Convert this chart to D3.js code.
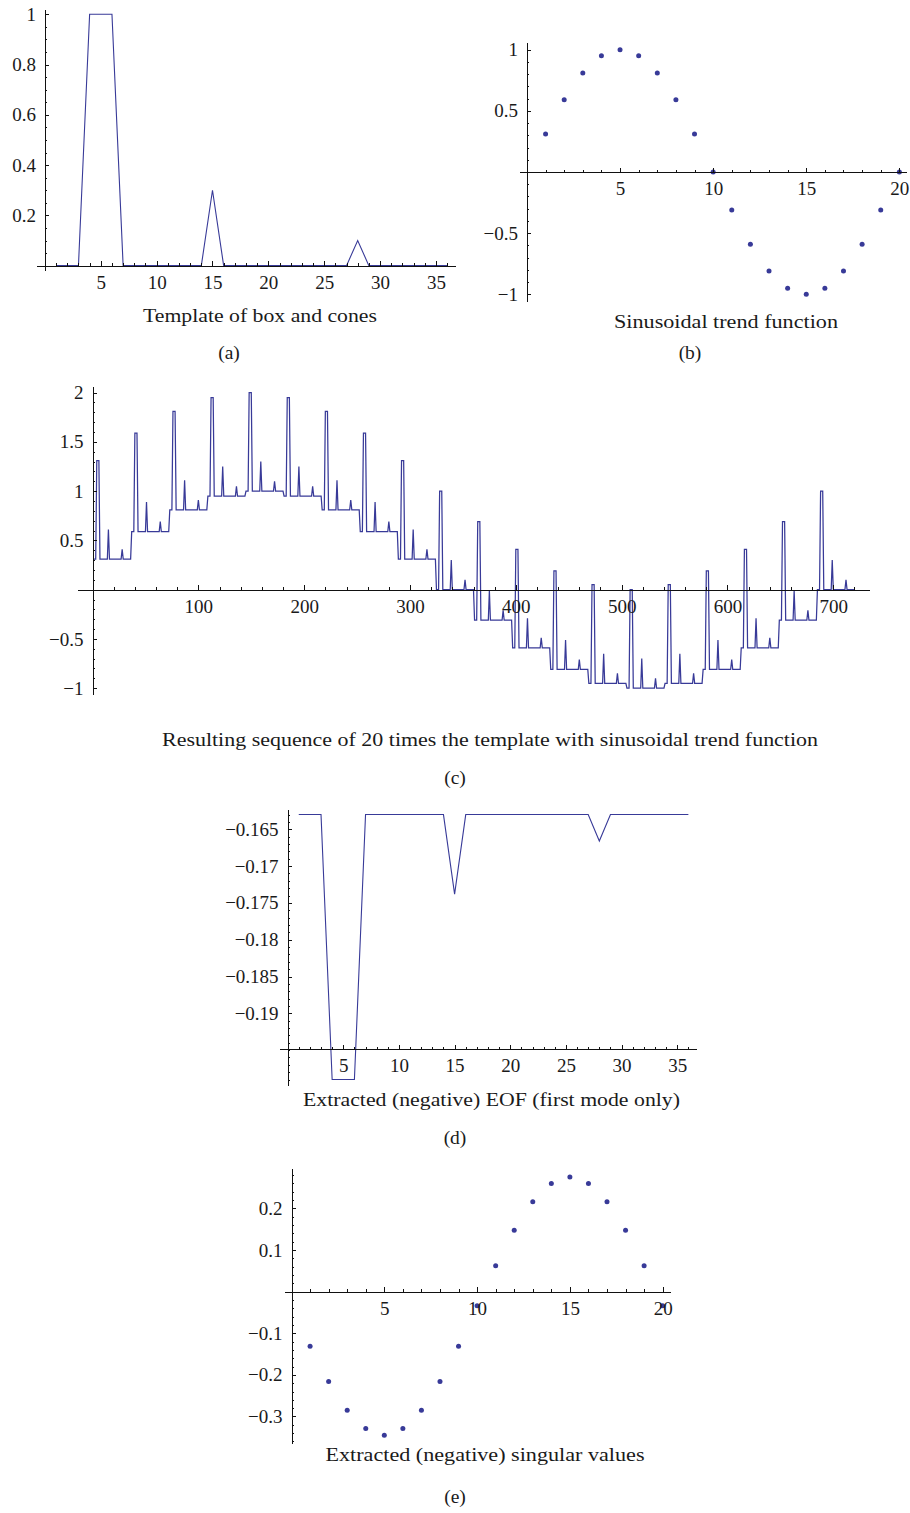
<!DOCTYPE html>
<html>
<head>
<meta charset="utf-8">
<script src="https://cdn.jsdelivr.net/npm/d3@7"></script>
<style>
body { margin: 0; background: #fff; }
svg text { font-family: "Liberation Serif", "DejaVu Serif", serif; fill: #1a1a1a; }
.axis path, .axis line { stroke: #111; stroke-width: 1; shape-rendering: crispEdges; }
</style>
</head>
<body>
<svg id="fig" width="910" height="1513"></svg>
<script>
// ---- values ----

// (a) template of one box and two cones, points 1..36
const templateVals = [0, 0, 0, 1, 1, 1, 0, 0, 0, 0, 0, 0, 0, 0, 0.3, 0, 0, 0,
                      0, 0, 0, 0, 0, 0, 0, 0, 0, 0.1, 0, 0, 0, 0, 0, 0, 0, 0];

// (b) trend level for each of the 20 repeats
const trendVals = [0.31, 0.59, 0.81, 0.95, 1, 0.95, 0.81, 0.59, 0.31, 0,
                   -0.31, -0.59, -0.81, -0.95, -1, -0.95, -0.81, -0.59, -0.31, 0];

// (c) the template repeated 20 times, each copy lifted by its trend level (as the caption says)
const seqVals = trendVals.flatMap(t => templateVals.map(v => v + t));

// (d) first EOF mode, sign flipped
const eofVals = [-0.163, -0.163, -0.163, -0.199, -0.199, -0.199, -0.163, -0.163, -0.163,
                 -0.163, -0.163, -0.163, -0.163, -0.163, -0.1738, -0.163, -0.163, -0.163,
                 -0.163, -0.163, -0.163, -0.163, -0.163, -0.163, -0.163, -0.163, -0.163,
                 -0.1666, -0.163, -0.163, -0.163, -0.163, -0.163, -0.163, -0.163, -0.163];

// (e) extracted singular values, sign flipped
const singVals = [-0.131, -0.216, -0.285, -0.329, -0.345, -0.329, -0.285, -0.216, -0.131, -0.034,
                  0.0625, 0.1475, 0.216, 0.26, 0.2757, 0.26, 0.216, 0.1475, 0.0625, -0.034];

// tick labels
const ticksA = { x: [5, 10, 15, 20, 25, 30, 35], y: [0.2, 0.4, 0.6, 0.8, 1] };
const ticksB = { x: [5, 10, 15, 20], y: [-1, -0.5, 0.5, 1] };
const ticksC = { x: [100, 200, 300, 400, 500, 600, 700], y: [-1, -0.5, 0.5, 1, 1.5, 2] };
const ticksD = { x: [5, 10, 15, 20, 25, 30, 35], y: [-0.19, -0.185, -0.18, -0.175, -0.17, -0.165] };
const ticksE = { x: [5, 10, 15, 20], y: [-0.3, -0.2, -0.1, 0.1, 0.2] };

const titles = ['Template of box and cones', 'Sinusoidal trend function',
                'Resulting sequence of 20 times the template with sinusoidal trend function',
                'Extracted (negative) EOF (first mode only)',
                'Extracted (negative) singular values'];
const letters = ['(a)', '(b)', '(c)', '(d)', '(e)'];

const lineColor = '#383a98';
const svg = d3.select('#fig');

function fmt(v) {
  if (v === 0) return '';
  return String(+v.toFixed(4)).replace('-', '\u2212');
}

function ticksBetween(lo, hi, step) {
  const n = Math.round((hi - lo) / step);
  return d3.range(n + 1).map(i => +(lo + i * step).toFixed(6));
}

function drawPanel(p) {
  const x = d3.scaleLinear().domain(p.xDom).range(p.xPix);
  const y = d3.scaleLinear().domain(p.yDom).range(p.yPix);
  const g = svg.append('g');
  const axY = y(p.axisAt === undefined ? 0 : p.axisAt);
  const axX = x(0);

  if (p.kind === 'line') {
    const line = d3.line().x((d, i) => x(i + 1)).y(d => y(d));
    g.append('path')
      .datum(p.values)
      .attr('d', line)
      .attr('fill', 'none')
      .attr('stroke', lineColor)
      .attr('stroke-width', p.lw || 1.1)
      .attr('stroke-linejoin', 'miter');
  } else {
    g.selectAll('circle')
      .data(p.values)
      .join('circle')
      .attr('cx', (d, i) => x(i + 1))
      .attr('cy', d => y(d))
      .attr('r', 2.5)
      .attr('fill', lineColor);
  }

  // minor ticks
  g.append('g').attr('class', 'axis').attr('transform', `translate(0,${axY})`)
    .call(d3.axisBottom(x).tickValues(p.xMinor).tickSize(-2.5).tickSizeOuter(0).tickFormat(''))
    .call(s => s.select('.domain').remove());
  g.append('g').attr('class', 'axis').attr('transform', `translate(${axX},0)`)
    .call(d3.axisLeft(y).tickValues(p.yMinor).tickSize(-2.5).tickSizeOuter(0).tickFormat(''))
    .call(s => s.select('.domain').remove());

  // major ticks + labels
  const xa = g.append('g').attr('class', 'axis').attr('transform', `translate(0,${axY})`)
    .call(d3.axisBottom(x).tickValues(p.ticks.x).tickSize(-4.5).tickSizeOuter(0).tickPadding(10).tickFormat(fmt));
  const ya = g.append('g').attr('class', 'axis').attr('transform', `translate(${axX},0)`)
    .call(d3.axisLeft(y).tickValues(p.ticks.y).tickSize(-4.5).tickSizeOuter(0).tickPadding(9).tickFormat(fmt));
  [xa, ya].forEach(a => a.selectAll('text')
    .attr('font-family', '"Liberation Serif", serif')
    .attr('font-size', 19)
    .attr('fill', '#1a1a1a'));

  // caption under the plot and panel letter
  g.append('text')
    .attr('x', p.title[0]).attr('y', p.title[1])
    .attr('text-anchor', 'middle')
    .attr('font-size', 19.5)
    .attr('textLength', p.title[2])
    .attr('lengthAdjust', 'spacingAndGlyphs')
    .text(p.titleText);
  g.append('text')
    .attr('x', p.letter[0]).attr('y', p.letter[1])
    .attr('text-anchor', 'middle')
    .attr('font-size', 19.5)
    .text(p.letterText);
}

drawPanel({
  kind: 'line', values: templateVals, ticks: ticksA,
  xDom: [-0.72, 36.72], xPix: [36.9, 455.1],
  yDom: [-0.02, 1.02], yPix: [270.7, 9.2],
  xMinor: d3.range(1, 37), yMinor: ticksBetween(0.05, 1, 0.05),
  title: [260, 322, 234], titleText: titles[0],
  letter: [229, 359], letterText: letters[0]
});

drawPanel({
  kind: 'dots', values: trendVals, ticks: ticksB,
  xDom: [-0.4, 20.4], xPix: [519.5, 906.8],
  yDom: [-1.06, 1.06], yPix: [301.7, 42.3],
  xMinor: d3.range(1, 21), yMinor: ticksBetween(-1, 1, 0.1),
  title: [726, 328, 224], titleText: titles[1],
  letter: [690, 359], letterText: letters[1]
});

drawPanel({
  kind: 'line', values: seqVals, ticks: ticksC, lw: 1.25,
  xDom: [-14.4, 734.4], xPix: [77.3, 869.7],
  yDom: [-1.06, 2.06], yPix: [694.1, 386.7],
  xMinor: d3.range(20, 721, 20), yMinor: ticksBetween(-1, 2, 0.1),
  title: [490, 746, 656], titleText: titles[2],
  letter: [455, 784], letterText: letters[2]
});

drawPanel({
  kind: 'line', values: eofVals, ticks: ticksD, axisAt: -0.19485,
  xDom: [-0.72, 36.72], xPix: [279.6, 696.4],
  yDom: [-0.19978, -0.16234], yPix: [1085.3, 809.7],
  xMinor: d3.range(1, 37), yMinor: ticksBetween(-0.199, -0.163, 0.001),
  title: [491.5, 1106, 377], titleText: titles[3],
  letter: [455, 1144], letterText: letters[3]
});

drawPanel({
  kind: 'dots', values: singVals, ticks: ticksE,
  xDom: [-0.4, 20.4], xPix: [284.1, 670.1],
  yDom: [-0.364, 0.297], yPix: [1443.1, 1168.1],
  xMinor: d3.range(1, 21), yMinor: ticksBetween(-0.36, 0.28, 0.02),
  title: [485, 1461, 319], titleText: titles[4],
  letter: [455, 1503], letterText: letters[4]
});
</script>
</body>
</html>
